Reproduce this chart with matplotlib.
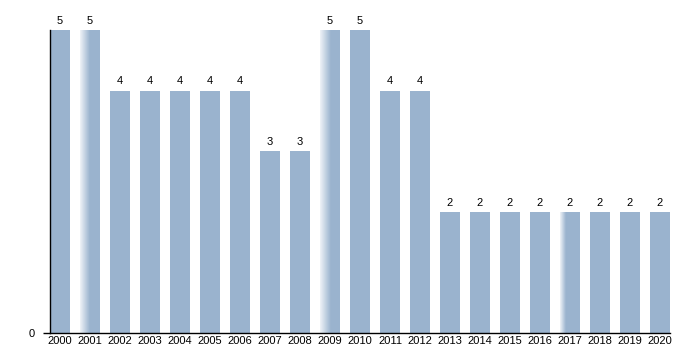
import numpy as np
import matplotlib.pyplot as plt

plt.rcParams['font.family'] = ['Liberation Sans', 'DejaVu Sans']

years = [str(y) for y in range(2000, 2021)]
values = [5, 5, 4, 4, 4, 4, 4, 3, 3, 5, 5, 4, 4, 2, 2, 2, 2, 2, 2, 2, 2]
# bars that show a soft white fade on their left edge in the original
faded = {1: 0.5, 9: 0.5, 17: 0.3}

bar_color = '#9ab3ce'

fig = plt.figure(figsize=(7, 3.5), dpi=100)
ax = fig.add_axes([50 / 700, 17 / 350, 620 / 700, 303 / 350])

x = np.arange(len(years))
w = 2 / 3
bars = ax.bar(x, values, width=w, color=bar_color, zorder=2)

# soft left-edge fade for a few bars
grad = np.linspace(1, 0, 64).reshape(1, -1)
for i, frac in faded.items():
    fw = w * frac
    rgba = np.ones((1, 64, 4))
    rgba[..., 3] = grad * 0.85
    ax.imshow(rgba, extent=(x[i] - w / 2, x[i] - w / 2 + fw, 0, values[i]),
              aspect='auto', zorder=3, interpolation='bilinear')

for xi, v in zip(x, values):
    ax.annotate(str(v), (xi, v), xytext=(0, 3), textcoords='offset points',
                ha='center', va='bottom', fontsize=8)

ax.set_xlim(-w / 2, len(years) - 1 + w / 2)
ax.set_ylim(0, 5)
ax.set_xticks(x)
ax.set_xticklabels(years, fontsize=8)
ax.tick_params(axis='x', length=0, pad=2)
ax.set_yticks([0])
ax.set_yticklabels(['0'], fontsize=8)
ax.tick_params(axis='y', length=5, width=1, pad=6)

for s in ['top', 'right']:
    ax.spines[s].set_visible(False)
for s in ['left', 'bottom']:
    ax.spines[s].set_color('black')
    ax.spines[s].set_linewidth(1)
    ax.spines[s].set_zorder(4)

fig.savefig('out.png', dpi=100)
